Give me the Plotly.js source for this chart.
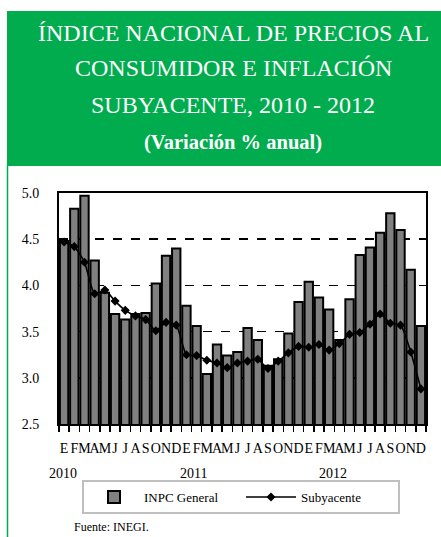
<!DOCTYPE html>
<html>
<head>
<meta charset="utf-8">
<script src="https://cdn.plot.ly/plotly-3.0.1.min.js"></script>
<style>
html,body{margin:0;padding:0;background:#fff;}
#chart{width:441px;height:537px;}
</style>
</head>
<body>
<div id="chart"></div>
<script>
// ---- data ----
var years = ['2010', '2011', '2012'];
var months = ['E','F','M','A','M','J','J','A','S','O','N','D'];
var inpcGeneral = [4.48,4.83,4.97,4.27,3.92,3.69,3.63,3.69,3.70,4.02,4.32,4.40,
                   3.78,3.56,3.04,3.36,3.24,3.28,3.54,3.41,3.13,3.20,3.48,3.82,
                   4.04,3.87,3.74,3.41,3.85,4.33,4.41,4.57,4.78,4.60,4.17,3.56];
var subyacente = [4.47,4.42,4.25,3.91,3.95,3.83,3.73,3.67,3.63,3.51,3.60,3.57,
                  3.25,3.24,3.19,3.16,3.11,3.16,3.18,3.20,3.10,3.18,3.27,3.34,
                  3.33,3.36,3.30,3.37,3.47,3.49,3.58,3.69,3.59,3.57,3.28,2.88];
var yTicks = [2.5, 3.0, 3.5, 4.0, 4.5, 5.0];
var yTickText = ['2.5','3.0','3.5','4.0','4.5','5.0'];
var titleLines = ['ÍNDICE NACIONAL DE PRECIOS AL', 'CONSUMIDOR E INFLACIÓN', 'SUBYACENTE, 2010 - 2012', '(Variación % anual)'];

// month positions (index along the axis) and their letters
var categories = [], monthLabels = [];
years.forEach(function(y){ months.forEach(function(m){ categories.push(categories.length); monthLabels.push(m); }); });

// ---- layout geometry (pixels) ----
var W = 441, H = 537, ML = 59, MR = 15, MT = 193, MB = 113;
var PW = W - ML - MR, PH = H - MT - MB;
function px(x){ return (x - ML) / PW; }
function py(y){ return (H - MB - y) / PH; }

var serif = '"Liberation Serif", "Times New Roman", serif';
var green = '#00AC4E';

var traces = [
  {
    type: 'bar', name: 'INPC General', x: categories, y: inpcGeneral,
    marker: {color: '#808080', line: {color: '#000', width: 2}},
    hoverinfo: 'y'
  },
  {
    type: 'scatter', mode: 'lines+markers', name: 'Subyacente', x: categories, y: subyacente,
    line: {color: '#000', width: 1.6, shape: 'spline', smoothing: 0.6},
    marker: {symbol: 'diamond', size: 7, color: '#000'},
    hoverinfo: 'y'
  }
];

var annotations = [];
var titleY = [33, 68, 105, 142];
titleLines.forEach(function(t, i){
  annotations.push({
    text: t, xref: 'paper', yref: 'paper', x: px(233), y: py(titleY[i]),
    xanchor: 'center', yanchor: 'middle', showarrow: false,
    font: {family: serif, size: i < 3 ? 24 : 20.5, color: '#fff', weight: i < 3 ? 'normal' : 'bold'}
  });
});
var yearX = [63, 193, 333];
years.forEach(function(y, i){
  annotations.push({
    text: y, xref: 'paper', yref: 'paper', x: px(yearX[i]), y: py(473),
    xanchor: 'center', yanchor: 'middle', showarrow: false,
    font: {family: serif, size: 14, color: '#000'}
  });
});
annotations.push({
  text: 'Fuente: INEGI.', xref: 'paper', yref: 'paper', x: px(72), y: py(527),
  xanchor: 'left', yanchor: 'middle', showarrow: false,
  font: {family: serif, size: 12, color: '#000'}
});

var shapes = [
  {type: 'rect', xref: 'paper', yref: 'paper', x0: px(7), x1: px(441), y0: py(166), y1: py(11),
   fillcolor: green, line: {width: 0}, layer: 'below'},
  {type: 'line', xref: 'paper', yref: 'paper', x0: px(7.5), x1: px(7.5), y0: py(166), y1: py(537),
   line: {color: green, width: 1.5}}
];

var layout = {
  width: W, height: H,
  margin: {l: ML, r: MR, t: MT, b: MB, pad: 0},
  paper_bgcolor: '#fff', plot_bgcolor: '#fff',
  font: {family: serif, color: '#000'},
  bargap: 0.18,
  showlegend: true,
  legend: {
    orientation: 'h', x: px(241), xanchor: 'center', y: py(480), yanchor: 'top',
    bordercolor: '#BFBFBF', borderwidth: 2, bgcolor: '#fff',
    font: {family: serif, size: 13, color: '#000'},
    itemwidth: 50, entrywidth: 92, traceorder: 'normal'
  },
  xaxis: {
    type: 'linear', range: [-0.5, 35.5],
    tickmode: 'array', tickvals: categories, ticktext: monthLabels, tickangle: 0,
    ticks: 'outside', ticklen: 10, tickcolor: 'rgba(0,0,0,0)',
    minor: {tick0: -0.5, dtick: 1, ticks: 'outside', ticklen: 6, tickwidth: 1.5, tickcolor: '#000', showgrid: false},
    showline: true, linecolor: '#000', linewidth: 2, mirror: true,
    showgrid: false, zeroline: false, fixedrange: true,
    tickfont: {family: serif, size: 14, color: '#000'}
  },
  yaxis: {
    range: [2.5, 5.0], tickvals: yTicks, ticktext: yTickText,
    ticks: '', ticklabelstandoff: 15,
    showline: true, linecolor: '#000', linewidth: 2, mirror: true,
    showgrid: true, gridcolor: '#000', gridwidth: 1.5, griddash: 'dash',
    zeroline: false, fixedrange: true,
    tickfont: {family: serif, size: 14, color: '#000'}
  },
  annotations: annotations,
  shapes: shapes
};

Plotly.newPlot('chart', traces, layout, {displayModeBar: false, staticPlot: true});
</script>
</body>
</html>
